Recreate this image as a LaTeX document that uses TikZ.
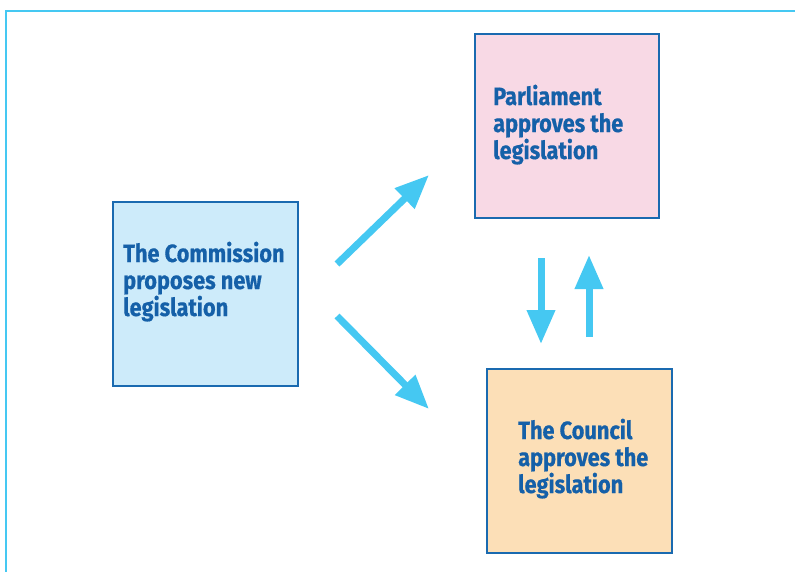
\documentclass[tikz,border=0pt]{standalone}
\usepackage{fontspec}
\newfontfamily\boxfont{Fira Sans}[FakeStretch=0.87, FakeBold=0.5]
\usetikzlibrary{arrows.meta}
\definecolor{cyanline}{HTML}{45C8F2}
\definecolor{boxborder}{HTML}{1A6AB0}
\definecolor{boxtext}{HTML}{1560A8}
\definecolor{commfill}{HTML}{CDEBFA}
\definecolor{parlfill}{HTML}{F8D9E5}
\definecolor{councfill}{HTML}{FCDFB7}
\tikzset{
  stagebox/.style={draw=boxborder, line width=1.6pt, inner sep=0pt},
  stagetext/.style={anchor=base west, align=left, inner sep=0pt, text=boxtext,
    font=\boxfont\bfseries\fontsize{25}{27}\selectfont},
  flowarrow/.style={draw=cyanline, line width=7pt, -{Triangle[length=34pt,width=27pt]}},
  framestroke/.style={draw=cyanline, line width=2.4pt}
}
\begin{document}
\begin{tikzpicture}[x=1pt,y=-1pt]
\useasboundingbox (0,0) rectangle (795,571);
% frame
\coordinate (fc) at (6,11);
\coordinate (fr) at (796,11);
\coordinate (fb) at (6,572);
\draw[framestroke] (fr) -- (fc) -- (fb);
% boxes
\node[stagebox, fill=commfill, minimum width=185pt, minimum height=184pt] (comm) at (205.5,294) {};
\node[stagebox, fill=parlfill, minimum width=184pt, minimum height=184pt] (parl) at (567,126) {};
\node[stagebox, fill=councfill, minimum width=185pt, minimum height=184pt] (counc) at (579.5,461) {};
% texts (anchored at the baseline of the last line)
\node[stagetext] (commtext) at (123,316) {The Commission\\proposes new\\legislation};
\node[stagetext] (parltext) at (493,159) {Parliament\\approves the\\legislation};
\node[stagetext] (counctext) at (518,493) {The Council\\approves the\\legislation};
% arrows
\coordinate (a1s) at (337,264);
\coordinate (a1e) at (429,175);
\coordinate (a2s) at (337,316);
\coordinate (a2e) at (429,409);
\coordinate (a3s) at (541,258);
\coordinate (a3e) at (541,344);
\coordinate (a4s) at (589,337);
\coordinate (a4e) at (589,255);
\draw[flowarrow] (a1s) -- (a1e);
\draw[flowarrow] (a2s) -- (a2e);
\draw[flowarrow] (a3s) -- (a3e);
\draw[flowarrow] (a4s) -- (a4e);
\end{tikzpicture}
\end{document}
